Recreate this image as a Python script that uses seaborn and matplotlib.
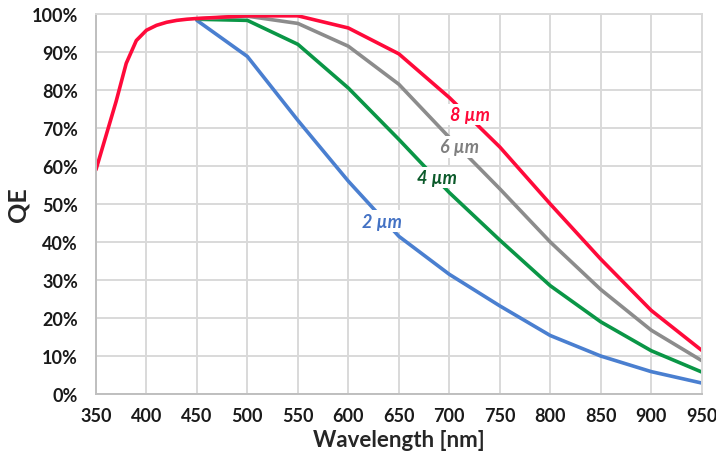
import matplotlib.pyplot as plt
import seaborn as sns
import pandas as pd
from matplotlib.ticker import PercentFormatter

# wavelengths (nm) and QE (%) per pixel size
wl_8um = [350, 360, 370, 380, 390, 400, 410, 420, 430, 440, 450, 500, 550, 600, 650, 700, 750, 800, 850, 900, 950]
qe_8um = [59, 68, 77, 87, 93, 95.7, 97, 97.8, 98.3, 98.6, 98.8, 99.5, 99.5, 96.3, 89.5, 78, 65, 50, 35.5, 22, 11.5]

wl_6um = [450, 500, 550, 600, 650, 700, 750, 800, 850, 900, 950]
qe_6um = [98.7, 99.4, 97.5, 91.5, 81.5, 67.5, 54, 40, 27.5, 16.8, 8.8]

wl_4um = [450, 500, 550, 600, 650, 700, 750, 800, 850, 900, 950]
qe_4um = [98.6, 98.3, 92, 80.5, 67, 53, 40.5, 28.5, 19, 11.4, 5.8]

wl_2um = [450, 500, 550, 600, 650, 700, 750, 800, 850, 900, 950]
qe_2um = [98.3, 88.8, 72, 56, 41.5, 31.5, 23.2, 15.4, 10, 5.9, 2.9]

series = ['2 µm', '4 µm', '6 µm', '8 µm']
line_colors = ['#4a7fd0', '#0a9646', '#8c8c8c', '#ff0a3a']
text_colors = ['#4472c4', '#0b5a2a', '#7f7f7f', '#ff0a3a']
label_pos = [(633, 45.5), (688, 57), (710, 65), (720, 73.5)]

df = pd.concat([
    pd.DataFrame({'wl': wl_2um, 'qe': qe_2um, 'size': '2 µm'}),
    pd.DataFrame({'wl': wl_4um, 'qe': qe_4um, 'size': '4 µm'}),
    pd.DataFrame({'wl': wl_6um, 'qe': qe_6um, 'size': '6 µm'}),
    pd.DataFrame({'wl': wl_8um, 'qe': qe_8um, 'size': '8 µm'}),
])

sns.set_style('white')
plt.rcParams['font.family'] = ['Lato', 'DejaVu Sans']

fig = plt.figure(figsize=(7.16, 4.52), dpi=100)
ax = fig.add_axes([0.134, 0.126, 0.846, 0.841])

sns.lineplot(data=df, x='wl', y='qe', hue='size', hue_order=series,
             palette=dict(zip(series, line_colors)), linewidth=2.6,
             legend=False, ax=ax, sort=False)

for name, col, (x, y) in zip(series, text_colors, label_pos):
    ax.text(x, y, name, color=col, fontsize=13, fontweight='bold', style='italic',
            ha='center', va='center', zorder=5,
            bbox=dict(facecolor='white', edgecolor='none', pad=1.5))

ax.set_xlim(350, 950)
ax.set_ylim(0, 100)
ax.set_xticks(range(350, 951, 50))
ax.set_yticks(range(0, 101, 10))
ax.yaxis.set_major_formatter(PercentFormatter(decimals=0))
ax.grid(True, color='#d9d9d9', linewidth=1.4)
ax.set_axisbelow(True)
for s in ax.spines.values():
    s.set_color('#d9d9d9')
    s.set_linewidth(1.4)
ax.spines['left'].set_color('#bfbfbf')
ax.spines['bottom'].set_color('#bfbfbf')
ax.tick_params(axis='both', length=0, labelsize=13)
ax.tick_params(axis='x', pad=9)
ax.tick_params(axis='y', pad=13)
for lab in ax.get_xticklabels() + ax.get_yticklabels():
    lab.set_fontweight('bold')
    lab.set_color('#1a1a1a')

ax.set_xlabel('Wavelength [nm]', fontsize=16, fontweight='bold', labelpad=4)
ax.set_ylabel('QE', fontsize=18, fontweight='bold')
ax.yaxis.set_label_coords(-0.11, 0.5)

fig.savefig('out.png', dpi=100)
